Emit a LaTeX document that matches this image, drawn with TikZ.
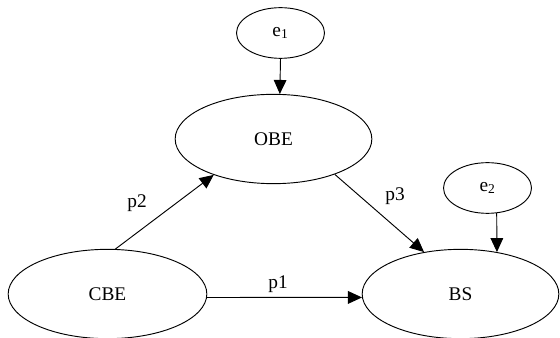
\documentclass[tikz,border=0pt]{standalone}
\usepackage{fontspec}
\setmainfont{Liberation Serif}
\usetikzlibrary{shapes.geometric}
\usetikzlibrary{arrows.meta}

\begin{document}
\begin{tikzpicture}[x=0.75pt,y=-0.75pt,
	var/.style={draw,ellipse,line width=0.7pt,inner sep=0pt,
	font=\fontsize{14.5}{16}\selectfont},
	err/.style={var,minimum width=66pt,minimum height=38pt},
	lab/.style={font=\fontsize{14.5}{16}\selectfont},
	path/.style={line width=0.7pt,-{Triangle[length=10.5pt,width=9.5pt]}}]
\useasboundingbox (0,0) rectangle (560,338);
\node [err] (e1) at (280.5,33) {e\textsubscript{1}};
\node [var, minimum width=147.5pt, minimum height=67pt] (OBE) at (273.5,139) {OBE};
\node [var, minimum width=149pt, minimum height=67pt] (CBE) at (107.5,294) {CBE};
\node [var, minimum width=147.5pt, minimum height=67pt] (BS) at (460.5,294) {BS};
\node [err] (e2) at (487.5,188) {e\textsubscript{2}};
\draw [path] (e1.south) -- (OBE.82);
\draw [path] (e2.290) -- (BS.49);
\draw [path] (CBE.80) -- (OBE.211);
\draw [path] (OBE.330) -- (BS.131);
\draw [path] (CBE.-2) -- (BS.182);
\node [lab] (p2) at (137,203) {p2};
\node [lab] (p3) at (395,196) {p3};
\node [lab] (p1) at (278,284) {p1};
\end{tikzpicture}
\end{document}
